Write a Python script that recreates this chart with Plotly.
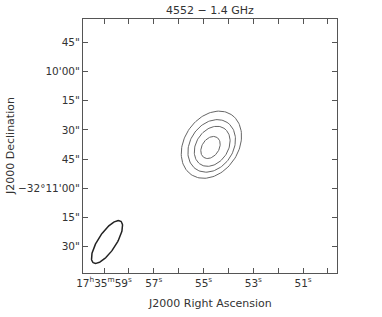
import numpy as np
import plotly.graph_objects as go

# ---- axis ticks (RA in seconds of 17h35m, Dec as arcsec offset from -32d11m00s)
ra_tick_vals = [59, 58, 57, 56, 55, 54, 53, 52, 51, 50]
ra_tick_text = ["17<sup>h</sup>35<sup>m</sup>59<sup>s</sup>", "", "57<sup>s</sup>", "",
                "55<sup>s</sup>", "", "53<sup>s</sup>", "", "51<sup>s</sup>", ""]
dec_tick_vals = [75, 60, 45, 30, 15, 0, -15, -30]
dec_tick_text = ['45"', "10'00\"", '15"', '30"', '45"', "\u221232\u00b011'00\"", '15"', '30"']

ra_range = [59.844, 49.638]
dec_range = [-43.5, 86.96]
dec_deg = -32.18

# ---- contours (centre RA s, centre Dec offset ", full major ", full minor ", PA deg)
cont_ra = [54.685, 54.673, 54.653, 54.721]
cont_dec = [22.39, 21.78, 21.57, 20.96]
cont_major = [37.0, 28.8, 22.1, 12.3]
cont_minor = [27.7, 22.1, 16.4, 8.7]
cont_pa = [-33, -33, -33, -33]

# ---- restoring beam
beam_ra = 58.879
beam_dec = -27.58
beam_major = 25.5
beam_minor = 9.2
beam_pa = -33


def ellipse(ra0, dec0, major, minor, pa, n=120):
    t = np.linspace(0, 2 * np.pi, n)
    p = np.deg2rad(pa)
    a, b = major / 2, minor / 2
    east = a * np.cos(t) * np.sin(p) + b * np.sin(t) * np.cos(p)
    north = a * np.cos(t) * np.cos(p) - b * np.sin(t) * np.sin(p)
    ra = ra0 + east / (15 * np.cos(np.deg2rad(dec_deg)))
    return ra, dec0 + north


fig = go.Figure()
for i in range(len(cont_ra)):
    x, y = ellipse(cont_ra[i], cont_dec[i], cont_major[i], cont_minor[i], cont_pa[i])
    fig.add_trace(go.Scatter(x=x, y=y, mode="lines", line=dict(color="#666", width=1),
                             hoverinfo="skip", showlegend=False))

bx, by = ellipse(beam_ra, beam_dec, beam_major, beam_minor, beam_pa)
fig.add_trace(go.Scatter(x=bx, y=by, mode="lines", line=dict(color="#222", width=1.5),
                         hoverinfo="skip", showlegend=False))

axis_common = dict(showgrid=False, zeroline=False, showline=True, linecolor="#555",
                   linewidth=1, mirror="ticks", ticks="inside", ticklen=5,
                   tickcolor="#555", tickwidth=1, automargin=False,
                   tickfont=dict(family="DejaVu Sans", size=10.5, color="#333"))

fig.update_xaxes(range=ra_range, tickmode="array", tickvals=ra_tick_vals,
                 ticktext=ra_tick_text, **axis_common)
fig.update_yaxes(range=dec_range, tickmode="array", tickvals=dec_tick_vals,
                 ticktext=dec_tick_text, **axis_common)

fig.update_layout(
    width=382, height=317,
    margin=dict(l=83, r=45, t=19, b=44),
    paper_bgcolor="white", plot_bgcolor="white",
    title=dict(text="4552 \u2212 1.4 GHz", x=0.5, xref="paper", y=1 - 10 / 317,
               yref="container", xanchor="center", yanchor="middle",
               font=dict(family="DejaVu Sans", size=11, color="#333")),
    annotations=[
        dict(text="J2000 Right Ascension", x=0.5, y=(273 - 303) / 254, xref="paper",
             yref="paper", showarrow=False, xanchor="center", yanchor="middle",
             font=dict(family="DejaVu Sans", size=11, color="#333")),
        dict(text="J2000 Declination", x=(10 - 83) / 254, y=0.5, xref="paper",
             yref="paper", showarrow=False, textangle=-90, xanchor="center",
             yanchor="middle", font=dict(family="DejaVu Sans", size=11, color="#333")),
    ],
)

fig.write_html("out.html", config={"displayModeBar": False},
               post_script="document.body.style.margin='0';document.body.style.padding='0';")
